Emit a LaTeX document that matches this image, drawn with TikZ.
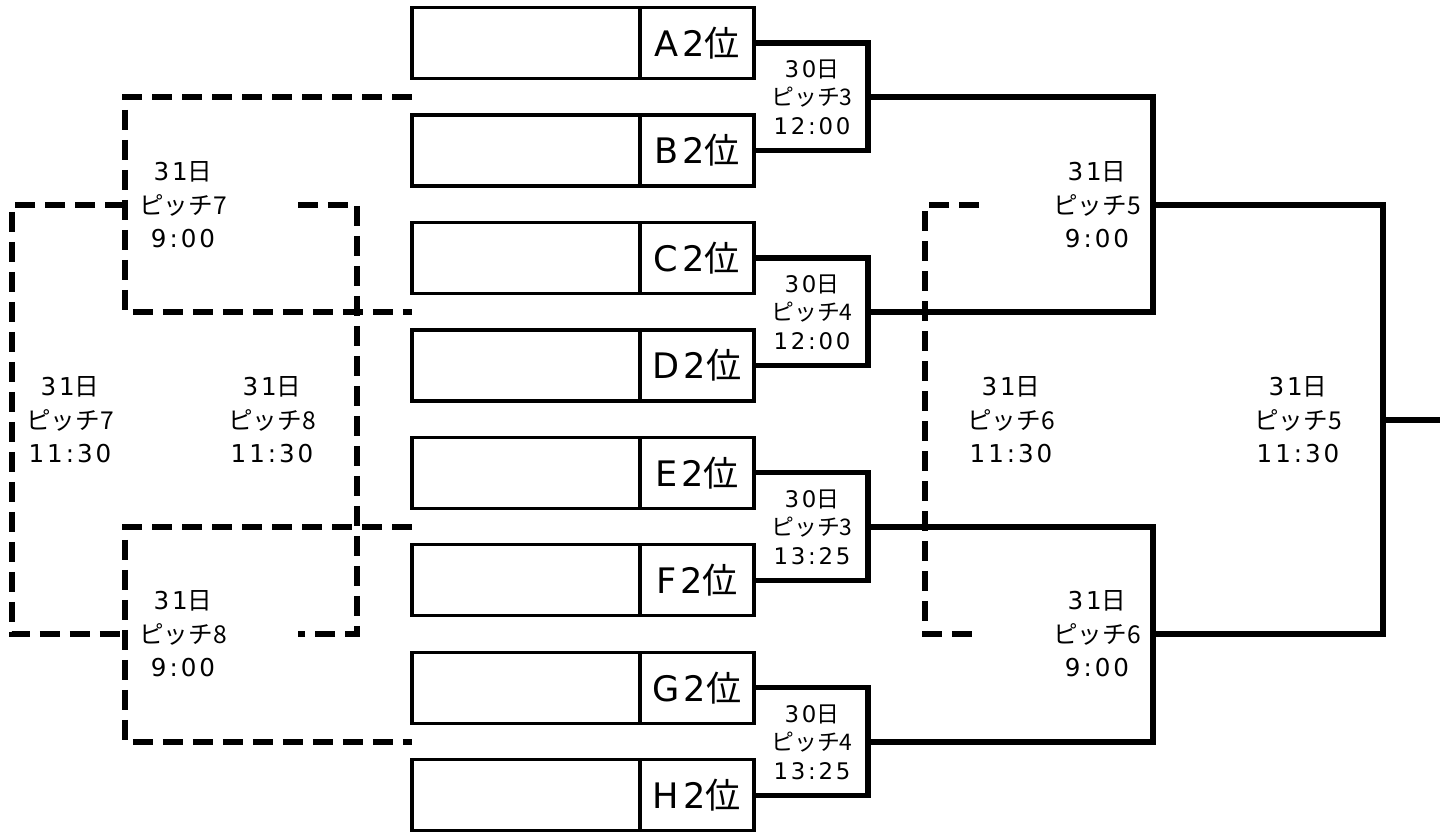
\documentclass[tikz,border=0pt]{standalone}
\usepackage{fontspec}
\setmainfont{Noto Sans CJK JP}
\newfontfamily\numfont[LetterSpace=12]{DejaVu Sans}
\usetikzlibrary{positioning}

\begin{document}
\begin{tikzpicture}[x=0.02cm, y=-0.02cm,
    namecell/.style={rectangle, draw, line width=1.8pt, outer sep=0pt,
                 minimum width=4.56cm, minimum height=1.42cm, inner sep=0pt},
    rankcell/.style={rectangle, draw, line width=1.8pt, outer sep=0pt,
                 minimum width=2.28cm, minimum height=1.42cm, inner sep=0pt,
                 font=\fontsize{20}{24}\selectfont},
    winline/.style={line width=2.9pt},
    lossline/.style={line width=2.9pt, dash pattern=on 0.4cm off 0.2cm},
    matchlbl/.style={align=center, inner sep=1pt,
                 font=\fontsize{13}{16.2}\selectfont},
    daylbl/.style={align=center, inner sep=1pt,
                 font=\fontsize{14}{19}\selectfont},
  ]
    \useasboundingbox (0,0) rectangle (1447,832);

    % team boxes
    \node[namecell] (na) at (526,43) {};
    \node[rankcell, right=0pt of na] (a) {{\numfont A2}位};
    \node[namecell, below=0.73cm of na] (nb) {};
    \node[rankcell, right=0pt of nb] (b) {{\numfont B2}位};
    \node[namecell, below=0.73cm of nb] (nc) {};
    \node[rankcell, right=0pt of nc] (c) {{\numfont C2}位};
    \node[namecell, below=0.73cm of nc] (nd) {};
    \node[rankcell, right=0pt of nd] (d) {{\numfont D2}位};
    \node[namecell, below=0.73cm of nd] (ne) {};
    \node[rankcell, right=0pt of ne] (e) {{\numfont E2}位};
    \node[namecell, below=0.73cm of ne] (nf) {};
    \node[rankcell, right=0pt of nf] (f) {{\numfont F2}位};
    \node[namecell, below=0.73cm of nf] (ng) {};
    \node[rankcell, right=0pt of ng] (g) {{\numfont G2}位};
    \node[namecell, below=0.73cm of ng] (nh) {};
    \node[rankcell, right=0pt of nh] (h) {{\numfont H2}位};

    % joints
    \coordinate (j1) at (868,97);
    \coordinate (j2) at (868,312);
    \coordinate (j3) at (868,527);
    \coordinate (j4) at (868,742);
    \coordinate (k1) at (1153,205);
    \coordinate (k2) at (1153,634);
    \coordinate (fin) at (1383,420);
    \coordinate (out) at (1440,420);

    \coordinate (ab) at (412,97);
    \coordinate (cd) at (412,312);
    \coordinate (ef) at (412,527);
    \coordinate (gh) at (412,742);
    \coordinate (l1) at (125,205);
    \coordinate (l2) at (125,634);
    \coordinate (lw) at (12,634);
    \coordinate (lr1) at (298,205);
    \coordinate (lr2) at (298,634);
    \coordinate (lrc) at (357,634);
    \coordinate (rd1) at (979,205);
    \coordinate (rd2) at (925,634);
    \coordinate (rd3) at (979,634);

    % labels
    \node[matchlbl] (m1) at (812,97)  {{\numfont 30}日\\ピッチ3\\{\numfont 12:00}};
    \node[matchlbl] (m2) at (812,312) {{\numfont 30}日\\ピッチ4\\{\numfont 12:00}};
    \node[matchlbl] (m3) at (812,527) {{\numfont 30}日\\ピッチ3\\{\numfont 13:25}};
    \node[matchlbl] (m4) at (812,742) {{\numfont 30}日\\ピッチ4\\{\numfont 13:25}};
    \node[daylbl] (s1) at (1097,205) {{\numfont 31}日\\ピッチ5\\{\numfont 9:00}};
    \node[daylbl] (s2) at (1097,634) {{\numfont 31}日\\ピッチ6\\{\numfont 9:00}};
    \node[daylbl] (fw) at (1298,420) {{\numfont 31}日\\ピッチ5\\{\numfont 11:30}};
    \node[daylbl] (fl) at (1011,420) {{\numfont 31}日\\ピッチ6\\{\numfont 11:30}};
    \node[daylbl] (p1) at (183,205) {{\numfont 31}日\\ピッチ7\\{\numfont 9:00}};
    \node[daylbl] (p2) at (183,634) {{\numfont 31}日\\ピッチ8\\{\numfont 9:00}};
    \node[daylbl] (q1) at (70,420)  {{\numfont 31}日\\ピッチ7\\{\numfont 11:30}};
    \node[daylbl] (q2) at (272,420) {{\numfont 31}日\\ピッチ8\\{\numfont 11:30}};

    % winners
    \draw[winline] (a.east) -| (j1) |- (b.east);
    \draw[winline] (c.east) -| (j2) |- (d.east);
    \draw[winline] (e.east) -| (j3) |- (f.east);
    \draw[winline] (g.east) -| (j4) |- (h.east);
    \draw[winline] (j1) -| (k1) |- (j2);
    \draw[winline] (j3) -| (k2) |- (j4);
    \draw[winline] (k1) -| (fin) |- (k2);
    \draw[winline] (fin) -- (out);

    % placings
    \draw[lossline] (ab) -| (l1) |- (cd);
    \draw[lossline] (ef) -| (l2) |- (gh);
    \draw[lossline] (l1) -| (lw) -- (l2);
    \draw[lossline] (lr1) -| (lrc) -- (lr2);
    \draw[lossline] (rd1) -| (rd2) -- (rd3);
\end{tikzpicture}
\end{document}
